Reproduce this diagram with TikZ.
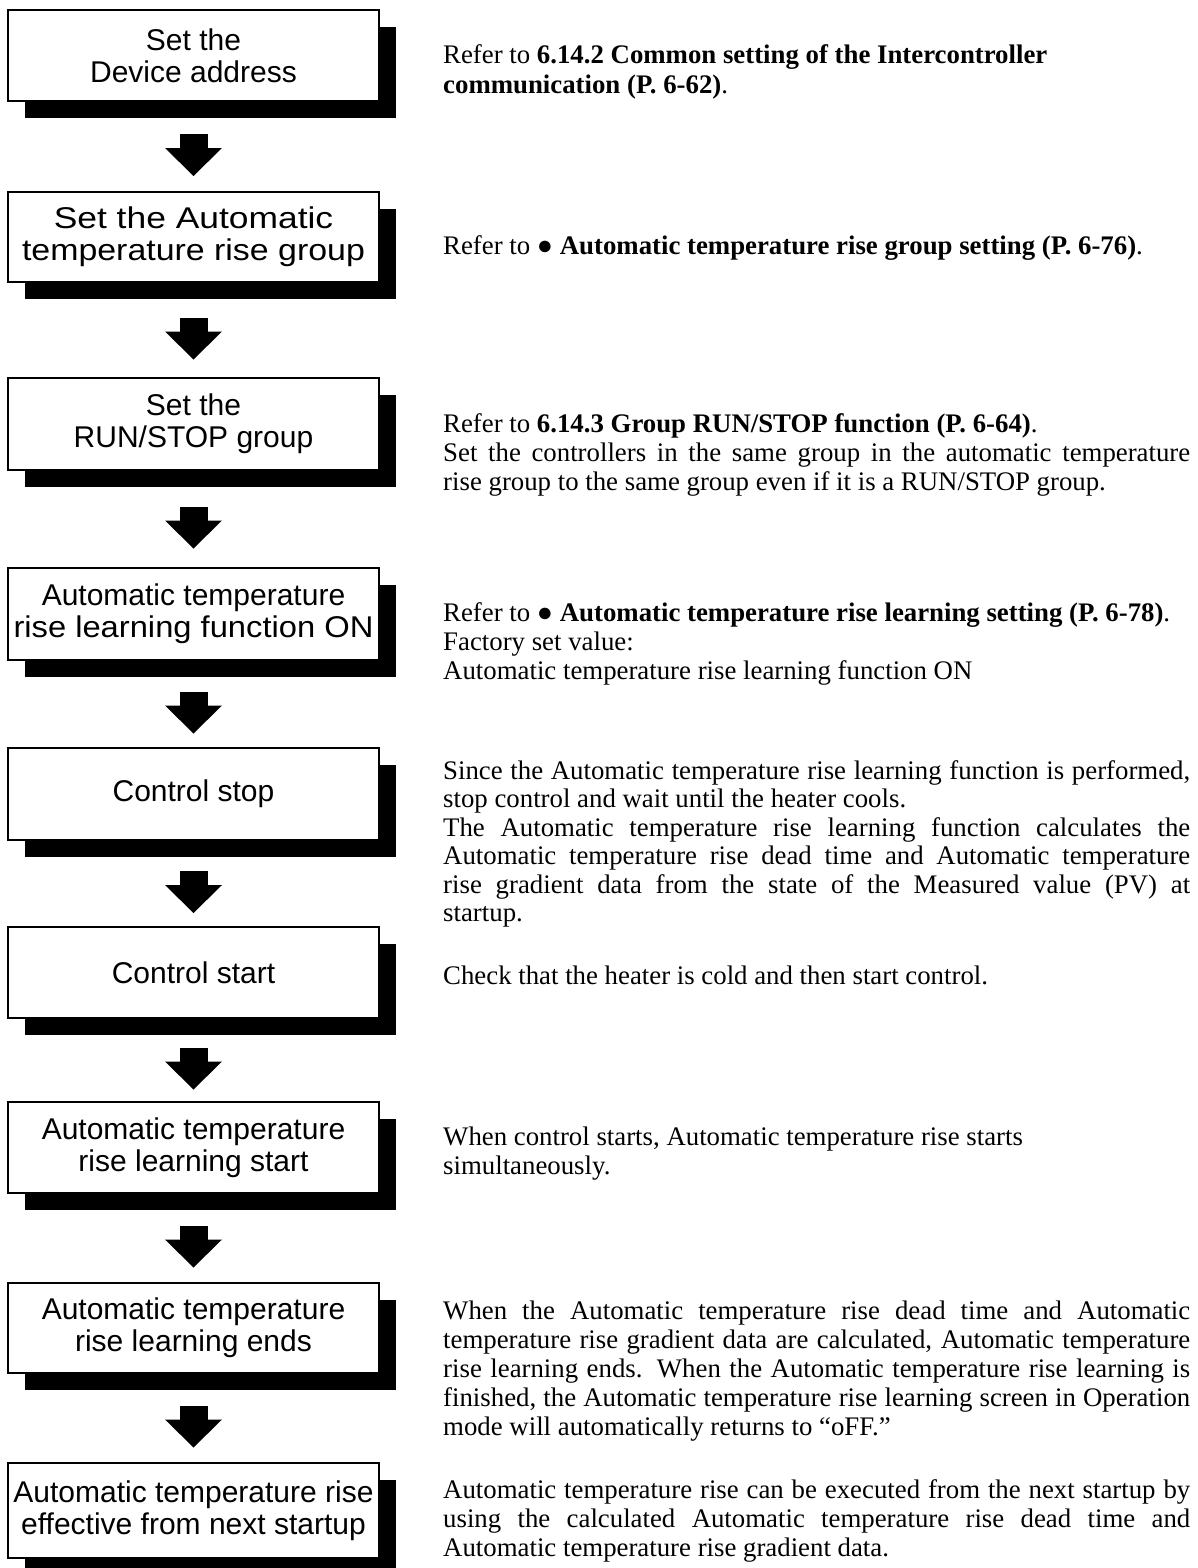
\documentclass[tikz,border=0pt]{standalone}
\usepackage{fontspec}
\setmainfont{Liberation Serif}
\newfontfamily\boxfont{Liberation Sans}
\usetikzlibrary{calc,shadows,arrows.meta}
\newlength\tw \setlength\tw{747pt}
\newcommand\jline[1]{\makebox[\tw][s]{#1}}
\newcommand\wide[2]{\scalebox{#1}[1]{#2}}
\tikzset{
 stepbox/.style={draw=black, line width=1.2pt, fill=white, minimum width=371pt, inner sep=0pt, align=center,
   font=\boxfont\fontsize{30pt}{32pt}\selectfont,
   drop shadow={shadow xshift=17pt, shadow yshift=-17pt, fill=black, opacity=1}},
 rt/.style={anchor=base west, inner sep=0pt, font=\fontsize{26.8pt}{29pt}\selectfont},
 blockarrow/.style={line width=28pt, black, -{Triangle[length=28pt, width=57pt, line width=0pt]}},
}
\newcommand\flowarrow[2]{\draw[blockarrow] ($(#1.south)!0.5!(#2.north)+(0,-12.5)$) -- ($(#1.south)!0.5!(#2.north)+(0,29.5)$);}
\begin{document}
\begin{tikzpicture}[x=1pt, y=-1pt]
\path[use as bounding box] (0,0) rectangle (1198,1568);
\clip (0,0) rectangle (1198,1568);
\fill[white] (0,0) rectangle (1198,1568);

% boxes
\node[stepbox, minimum height=91pt] (b1) at (193.5,55.5) {Set the\\Device address};
\node[stepbox, minimum height=90pt] (b2) at (193.5,237) {\wide{1.18}{Set the Automatic}\\\wide{1.13}{temperature rise group}};
\node[stepbox, minimum height=92pt] (b3) at (193.5,424) {Set the\\RUN/STOP group};
\node[stepbox, minimum height=92pt] (b4) at (193.5,614) {Automatic temperature\\\wide{1.09}{rise learning function ON}};
\node[stepbox, minimum height=92pt] (b5) at (193.5,794) {Control stop};
\node[stepbox, minimum height=91pt] (b6) at (193.5,972.5) {Control start};
\node[stepbox, minimum height=91pt] (b7) at (193.5,1147.5) {Automatic temperature\\rise learning start};
\node[stepbox, minimum height=90pt] (b8) at (193.5,1328) {Automatic temperature\\rise learning ends};
\node[stepbox, minimum height=95pt] (b9) at (193.5,1510.5) {Automatic temperature rise\\effective from next startup};

% arrows
\flowarrow{b1}{b2}
\flowarrow{b2}{b3}
\flowarrow{b3}{b4}
\flowarrow{b4}{b5}
\flowarrow{b5}{b6}
\flowarrow{b6}{b7}
\flowarrow{b7}{b8}
\flowarrow{b8}{b9}

% right-hand text
\node[rt] (t1a) at (443,64) {Refer to \textbf{6.14.2 Common setting of the Intercontroller}};
\node[rt] (t1b) at (443,93.5) {\textbf{communication (P. 6-62)}.};

\node[rt] (t2a) at (443,254) {Refer to ● \textbf{Automatic temperature rise group setting (P. 6-76)}.};

\node[rt] (t3a) at (443,432) {Refer to \textbf{6.14.3 Group RUN/STOP function (P. 6-64)}.};
\node[rt] (t3b) at (443,461) {\jline{Set the controllers in the same group in the automatic temperature}};
\node[rt] (t3c) at (443,490) {rise group to the same group even if it is a RUN/STOP group.};

\node[rt] (t4a) at (443,621) {Refer to ● \textbf{Automatic temperature rise learning setting (P. 6-78)}.};
\node[rt] (t4b) at (443,650) {Factory set value:};
\node[rt] (t4c) at (443,679) {Automatic temperature rise learning function ON};

\node[rt] (t5a) at (443,779) {\jline{Since the Automatic temperature rise learning function is performed,}};
\node[rt] (t5b) at (443,807.5) {stop control and wait until the heater cools.};
\node[rt] (t5c) at (443,836) {\jline{The Automatic temperature rise learning function calculates the}};
\node[rt] (t5d) at (443,864.5) {\jline{Automatic temperature rise dead time and Automatic temperature}};
\node[rt] (t5e) at (443,893) {\jline{rise gradient data from the state of the Measured value (PV) at}};
\node[rt] (t5f) at (443,921.5) {startup.};

\node[rt] (t6a) at (443,984) {Check that the heater is cold and then start control.};

\node[rt] (t7a) at (443,1145) {When control starts, Automatic temperature rise starts};
\node[rt] (t7b) at (443,1174) {simultaneously.};

\node[rt] (t8a) at (443,1319) {\jline{When the Automatic temperature rise dead time and Automatic}};
\node[rt] (t8b) at (443,1348) {\jline{temperature rise gradient data are calculated, Automatic temperature}};
\node[rt] (t8c) at (443,1377) {\jline{rise learning ends. When the Automatic temperature rise learning is}};
\node[rt] (t8d) at (443,1406) {\jline{finished, the Automatic temperature rise learning screen in Operation}};
\node[rt] (t8e) at (443,1435) {mode will automatically returns to “oFF.”};

\node[rt] (t9a) at (443,1498) {\jline{Automatic temperature rise can be executed from the next startup by}};
\node[rt] (t9b) at (443,1527) {\jline{using the calculated Automatic temperature rise dead time and}};
\node[rt] (t9c) at (443,1556) {Automatic temperature rise gradient data.};
\end{tikzpicture}
\end{document}
